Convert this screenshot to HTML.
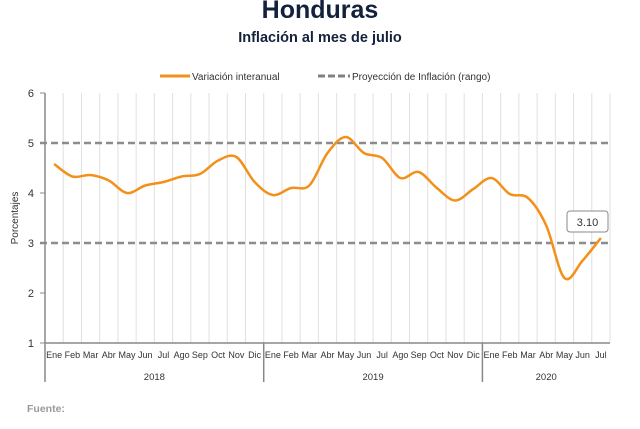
<!DOCTYPE html>
<html><head><meta charset="utf-8"><style>
body{margin:0;background:#fff;width:640px;height:424px;overflow:hidden;font-family:"Liberation Sans",sans-serif}
</style></head><body>
<svg id="s" width="640" height="424" xmlns="http://www.w3.org/2000/svg" font-family="Liberation Sans, sans-serif">
<text x="320" y="18" text-anchor="middle" font-size="25" font-weight="bold" fill="#14213d">Honduras</text>
<text x="320" y="42" text-anchor="middle" font-size="14.5" font-weight="bold" fill="#14213d">Inflación al mes de julio</text>
<line x1="160" y1="76" x2="190" y2="76" stroke="#f39019" stroke-width="3"/>
<text x="192" y="80" font-size="10" fill="#333">Variación interanual</text>
<line x1="318" y1="76" x2="350" y2="76" stroke="#808080" stroke-width="3" stroke-dasharray="7,3"/>
<text x="352" y="80" font-size="10" fill="#333">Proyección de Inflación (rango)</text>
<g id="g"></g>
<text transform="translate(18,218) rotate(-90)" text-anchor="middle" font-size="10" fill="#333">Porcentajes</text>
<text x="27" y="412" font-size="10.5" font-weight="bold" fill="#999">Fuente:</text>
</svg>
<script>
var g=document.getElementById('g'),h='';
var x0=45,x1=610,n=31,w=(x1-x0)/n;
function Y(v){return 343-(v-1)*50}
for(var i=0;i<=n;i++){var x=x0+i*w;h+='<line x1="'+x+'" y1="93" x2="'+x+'" y2="343" stroke="#e0e0e0" stroke-width="1"/>';}
for(var v=1;v<=6;v++){h+='<line x1="40" y1="'+Y(v)+'" x2="45" y2="'+Y(v)+'" stroke="#888"/><text x="34" y="'+(Y(v)+4)+'" text-anchor="end" font-size="11" fill="#333">'+v+'</text>';}
h+='<line x1="45" y1="93" x2="45" y2="343" stroke="#888" stroke-width="1.5"/>';
h+='<line x1="45" y1="343" x2="610" y2="343" stroke="#888" stroke-width="1.5"/>';
[45,45+12*w,45+24*w].forEach(function(x){h+='<line x1="'+x+'" y1="343" x2="'+x+'" y2="382" stroke="#888" stroke-width="1.5"/>';});
h+='<line x1="40" y1="'+Y(5)+'" x2="610" y2="'+Y(5)+'" stroke="#8c8c8c" stroke-width="2.5" stroke-dasharray="7,4"/>';
h+='<line x1="40" y1="'+Y(3)+'" x2="610" y2="'+Y(3)+'" stroke="#8c8c8c" stroke-width="2.5" stroke-dasharray="7,4"/>';
var m=['Ene','Feb','Mar','Abr','May','Jun','Jul','Ago','Sep','Oct','Nov','Dic'];
for(var i=0;i<n;i++){h+='<text x="'+(x0+(i+.5)*w)+'" y="358" text-anchor="middle" font-size="9" fill="#333">'+m[i%12]+'</text>';}
h+='<text x="'+(45+6*w)+'" y="380" text-anchor="middle" font-size="9.5" fill="#333">2018</text>';
h+='<text x="'+(45+18*w)+'" y="380" text-anchor="middle" font-size="9.5" fill="#333">2019</text>';
h+='<text x="'+(45+27.5*w)+'" y="380" text-anchor="middle" font-size="9.5" fill="#333">2020</text>';
var d=[4.58,4.33,4.36,4.25,4.0,4.15,4.22,4.33,4.38,4.65,4.72,4.22,3.96,4.1,4.15,4.8,5.12,4.8,4.7,4.3,4.42,4.1,3.85,4.08,4.3,3.98,3.9,3.35,2.3,2.65,3.1];
var p=d.map(function(v,i){return [x0+(i+.5)*w,Y(v)]});
var s='M'+p[0][0]+','+p[0][1];
for(var i=0;i<p.length-1;i++){var a=p[i-1]||p[i],b=p[i],c=p[i+1],e=p[i+2]||c;
s+=' C'+(b[0]+(c[0]-a[0])/6)+','+(b[1]+(c[1]-a[1])/6)+' '+(c[0]-(e[0]-b[0])/6)+','+(c[1]-(e[1]-b[1])/6)+' '+c[0]+','+c[1];}
h+='<path d="'+s+'" fill="none" stroke="#f39019" stroke-width="2.5"/>';
h+='<rect x="567" y="211" width="41" height="21" rx="3" fill="#fff" stroke="#888"/><text x="587.5" y="226" text-anchor="middle" font-size="11" fill="#333">3.10</text>';
g.innerHTML=h;
</script>
</body></html>
